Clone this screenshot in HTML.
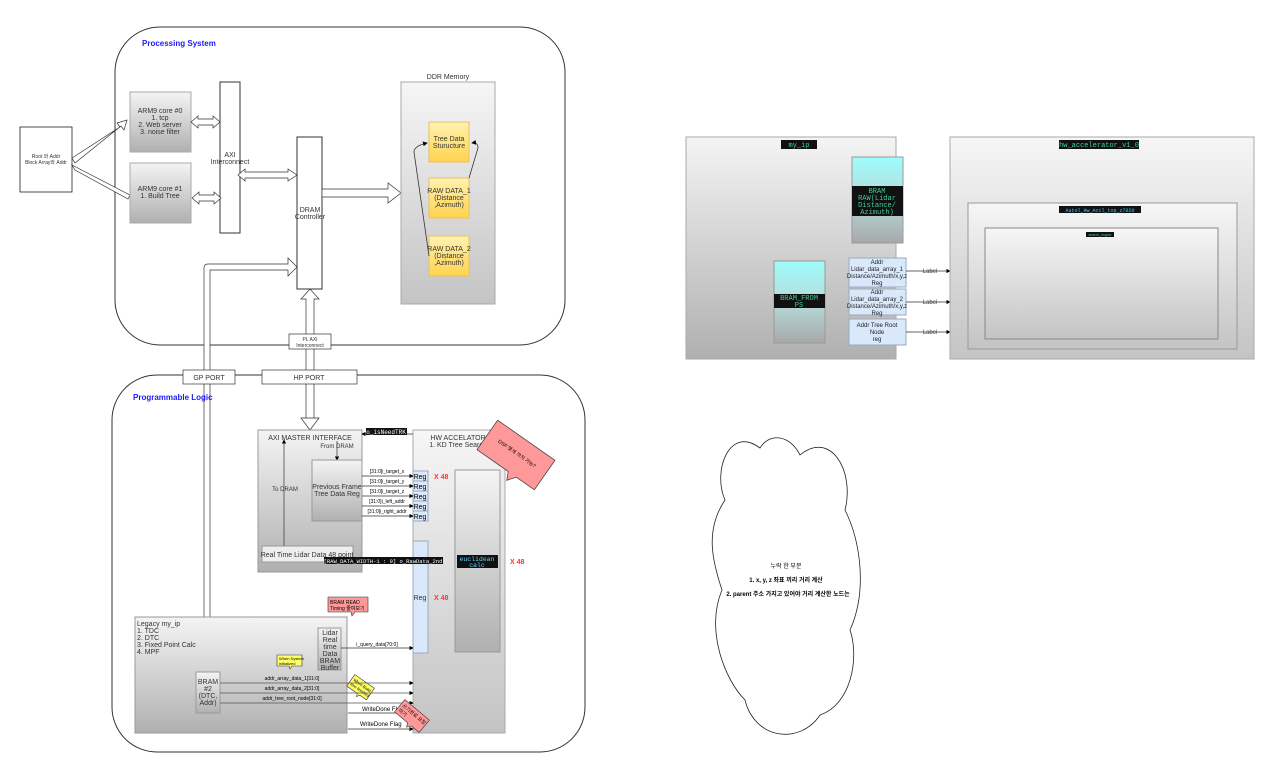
<!DOCTYPE html>
<html><head><meta charset="utf-8"><style>
body{margin:0;background:#fff}
svg{display:block;font-family:"Liberation Sans","Noto Sans CJK KR",sans-serif}
.m{font-family:"Liberation Mono",monospace}
</style></head><body>
<svg width="1280" height="772" viewBox="0 0 1280 772" xmlns="http://www.w3.org/2000/svg">
<defs>
<linearGradient id="g" x1="0" y1="0" x2="0" y2="1"><stop offset="0" stop-color="#f4f4f4"/><stop offset="1" stop-color="#b0b0b0"/></linearGradient>
<linearGradient id="gl" x1="0" y1="0" x2="0" y2="1"><stop offset="0" stop-color="#f6f6f6"/><stop offset="1" stop-color="#c4c4c4"/></linearGradient>
<linearGradient id="y" x1="0" y1="0" x2="0" y2="1"><stop offset="0" stop-color="#fff2b0"/><stop offset="1" stop-color="#ffd34d"/></linearGradient>
<linearGradient id="c" x1="0" y1="0" x2="0" y2="1"><stop offset="0" stop-color="#9ffcfc"/><stop offset="0.5" stop-color="#b6dcdc"/><stop offset="1" stop-color="#a8a8a8"/></linearGradient>
<marker id="a" markerWidth="6" markerHeight="6" refX="5" refY="3" orient="auto"><path d="M0,0L6,3L0,6z" fill="#000"/></marker>
</defs>
<g font-size="7" fill="#333">
<rect x="20" y="127" width="52" height="65" fill="#fff" stroke="#000" stroke-width=".7"/>
<text x="46" y="158" text-anchor="middle" font-size="5">Root 와 Addr</text>
<text x="46" y="164" text-anchor="middle" font-size="5">Block Array와 Addr</text>
<rect x="115" y="27" width="450" height="318" rx="45" fill="none" stroke="#333"/>
<text x="142" y="46" fill="#1a1aff" font-weight="bold" font-size="8">Processing System</text>
<path d="M72,158 L120,127 L117,123 L127,120 L124,130 L121,126 L75,163 Z" fill="#fff" stroke="#333" stroke-width=".7"/>
<path d="M72,165 L130,195 L128,199 L75,170 Z" fill="#fff" stroke="#333" stroke-width=".7"/>
<rect x="130" y="92" width="61" height="60" fill="url(#g)" stroke="#aaa"/>
<text x="160" y="113" text-anchor="middle">ARM9 core #0</text><text x="160" y="120" text-anchor="middle">1. tcp</text><text x="160" y="127" text-anchor="middle">2. Web server</text><text x="160" y="134" text-anchor="middle">3. noise filter</text>
<rect x="130" y="163" width="61" height="60" fill="url(#g)" stroke="#aaa"/>
<text x="160" y="191" text-anchor="middle">ARM9 core #1</text><text x="160" y="198" text-anchor="middle">1. Build Tree</text>
<rect x="220" y="82" width="20" height="151" fill="#fff" stroke="#333"/>
<text x="230" y="157" text-anchor="middle">AXI</text><text x="230" y="164" text-anchor="middle">Interconnect</text>
<path d="M191,122 l7,-6 v3 h15 v-3 l7,6 l-7,6 v-3 h-15 v3z" fill="#fff" stroke="#333" stroke-width=".7"/>
<path d="M192,198 l7,-6 v3 h15 v-3 l7,6 l-7,6 v-3 h-15 v3z" fill="#fff" stroke="#333" stroke-width=".7"/>
<path d="M238,175 l7,-6 v3 h43 v-3 l9,6 l-9,6 v-3 h-43 v3z" fill="#fff" stroke="#333" stroke-width=".7"/>
<rect x="297" y="137" width="25" height="152" fill="#fff" stroke="#333"/>
<text x="310" y="212" text-anchor="middle">DRAM</text><text x="310" y="219" text-anchor="middle">Controller</text>
<path d="M322,189 h66 v-6 l13,10 l-13,10 v-6 h-66z" fill="#fff" stroke="#333" stroke-width=".7"/>
<text x="448" y="79" text-anchor="middle">DDR Memory</text>
<rect x="401" y="82" width="94" height="222" fill="url(#gl)" stroke="#aaa"/>
<rect x="429" y="122" width="40" height="40" fill="url(#y)" stroke="#e8c060"/>
<text x="449" y="141" text-anchor="middle">Tree Data</text><text x="449" y="148" text-anchor="middle">Sturucture</text>
<rect x="429" y="178" width="40" height="40" fill="url(#y)" stroke="#e8c060"/>
<text x="449" y="193" text-anchor="middle">RAW DATA_1</text><text x="449" y="200" text-anchor="middle">(Distance</text><text x="449" y="207" text-anchor="middle">,Azimuth)</text>
<rect x="429" y="236" width="40" height="40" fill="url(#y)" stroke="#e8c060"/>
<text x="449" y="251" text-anchor="middle">RAW DATA_2</text><text x="449" y="258" text-anchor="middle">(Distance</text><text x="449" y="265" text-anchor="middle">,Azimuth)</text>
<path d="M429,256 L414,152 Q414,146 427,143" fill="none" stroke="#333" stroke-width=".8" marker-end="url(#a)"/>
<path d="M469,178 L478,148 Q478,142 472,143" fill="none" stroke="#333" stroke-width=".8" marker-end="url(#a)"/>
<path d="M204,672 V268 Q204,264 208,264 H288 V258 L297,267 L288,276 V270 H210 V672" fill="#fff" stroke="#333" stroke-width=".7"/>
<path d="M199,660 h4 v-2 h4 v2 h4 l-6,10 z" fill="#fff" stroke="#333" stroke-width=".7"/>
<path d="M306,420 V299 h-5 l9,-10 l9,10 h-5 V420" fill="#fff" stroke="#333" stroke-width=".7"/>
<path d="M301,418 h18 l-9,12 z" fill="#fff" stroke="#333" stroke-width=".7"/>
<rect x="289" y="334" width="42" height="15" fill="#fff" stroke="#333" stroke-width=".7"/>
<text x="310" y="341" text-anchor="middle" font-size="5">PL AXI</text><text x="310" y="347" text-anchor="middle" font-size="5">Interconnect</text>
<rect x="112" y="375" width="473" height="377" rx="45" fill="none" stroke="#333"/>
<rect x="183" y="370" width="52" height="14" fill="#fff" stroke="#333" stroke-width=".7"/><text x="209" y="380" text-anchor="middle">GP PORT</text>
<rect x="262" y="370" width="95" height="14" fill="#fff" stroke="#333" stroke-width=".7"/><text x="309" y="380" text-anchor="middle">HP PORT</text>
<text x="133" y="400" fill="#1a1aff" font-weight="bold" font-size="8">Programmable Logic</text>
<rect x="258" y="430" width="104" height="142" fill="url(#g)" stroke="#999"/>
<text x="310" y="440" text-anchor="middle">AXI MASTER INTERFACE</text>
<text x="337" y="448" text-anchor="middle" font-size="6">From DRAM</text>
<line x1="337" y1="441" x2="337" y2="460" stroke="#333" stroke-width=".7" marker-end="url(#a)"/>
<line x1="284" y1="546" x2="284" y2="440" stroke="#333" stroke-width=".7" marker-end="url(#a)"/>
<text x="285" y="491" text-anchor="middle" font-size="6" fill="#333">To DRAM</text>
<rect x="312" y="460" width="50" height="61" fill="url(#g)" stroke="#999"/>
<text x="337" y="489" text-anchor="middle">Previous Frame</text><text x="337" y="496" text-anchor="middle">Tree Data Reg</text>
<rect x="262" y="546" width="91" height="16" fill="#eee" stroke="#999"/>
<text x="307" y="557" text-anchor="middle">Real Time Lidar Data 48 point</text>
<rect x="413" y="430" width="92" height="303" fill="url(#gl)" stroke="#aaa"/>
<text x="458" y="440" text-anchor="middle">HW ACCELATOR</text><text x="458" y="447" text-anchor="middle">1. KD Tree Search</text>
<rect x="455" y="470" width="45" height="182" fill="url(#g)" stroke="#999"/>
<rect x="457" y="555" width="41" height="13" fill="#111"/>
<text x="477" y="561" text-anchor="middle" fill="#6cf" class="m" font-size="6.5">euclidean</text><text x="477" y="567" text-anchor="middle" fill="#6cf" class="m" font-size="6.5">calc</text>
<text x="510" y="564" fill="#f33" font-weight="bold">X 48</text>
<g font-size="5" fill="#000">
<rect x="413" y="471" width="15" height="10" fill="#dae8fc" stroke="#9ab"/><text x="420" y="479" text-anchor="middle" font-size="7">Reg</text>
<rect x="413" y="481" width="15" height="10" fill="#dae8fc" stroke="#9ab"/><text x="420" y="489" text-anchor="middle" font-size="7">Reg</text>
<rect x="413" y="491" width="15" height="10" fill="#dae8fc" stroke="#9ab"/><text x="420" y="499" text-anchor="middle" font-size="7">Reg</text>
<rect x="413" y="501" width="15" height="10" fill="#dae8fc" stroke="#9ab"/><text x="420" y="509" text-anchor="middle" font-size="7">Reg</text>
<rect x="413" y="511" width="15" height="10" fill="#dae8fc" stroke="#9ab"/><text x="420" y="519" text-anchor="middle" font-size="7">Reg</text>
<text x="434" y="479" fill="#f33" font-weight="bold" font-size="7">X 48</text>
<line x1="362" y1="476" x2="413" y2="476" stroke="#333" stroke-width=".7" marker-end="url(#a)"/><text x="387" y="473" text-anchor="middle">[31:0]i_target_x</text>
<line x1="362" y1="486" x2="413" y2="486" stroke="#333" stroke-width=".7" marker-end="url(#a)"/><text x="387" y="483" text-anchor="middle">[31:0]i_target_y</text>
<line x1="362" y1="496" x2="413" y2="496" stroke="#333" stroke-width=".7" marker-end="url(#a)"/><text x="387" y="493" text-anchor="middle">[31:0]i_target_z</text>
<line x1="362" y1="506" x2="413" y2="506" stroke="#333" stroke-width=".7" marker-end="url(#a)"/><text x="387" y="503" text-anchor="middle">[31:0]i_left_addr</text>
<line x1="362" y1="516" x2="413" y2="516" stroke="#333" stroke-width=".7" marker-end="url(#a)"/><text x="387" y="513" text-anchor="middle">[31:0]i_right_addr</text>
</g>
<rect x="413" y="541" width="15" height="112" fill="#dae8fc" stroke="#9ab"/>
<text x="420" y="600" text-anchor="middle">Reg</text><text x="434" y="600" fill="#f33" font-weight="bold">X 48</text>
<line x1="413" y1="434" x2="362" y2="434" stroke="#333" stroke-width=".7" marker-end="url(#a)"/>
<rect x="366" y="428" width="41" height="7" fill="#111"/><text x="386" y="434" text-anchor="middle" fill="#fff" font-size="6" class="m">o_isNeedTRK</text>
<line x1="413" y1="562" x2="353" y2="562" stroke="#333" stroke-width=".7" marker-end="url(#a)"/>
<rect x="324" y="557" width="119" height="7" fill="#111"/><text x="383" y="563" text-anchor="middle" fill="#fff" font-size="5.5" class="m">[RAW_DATA_WIDTH-1 : 0] o_RawData_2nd</text>
<g transform="translate(516,455) rotate(35)"><path d="M-35,-18 h70 v36 h-22 l-6,8 l-4,-8 h-38 z" fill="#f99" stroke="#333" stroke-width=".7"/><text x="0" y="0" text-anchor="middle" font-size="5" fill="#000">DSP 몇개 까지 가능?</text></g>
<rect x="135" y="617" width="212" height="116" fill="url(#g)" stroke="#999"/>
<text x="137" y="626">Legacy my_ip</text><text x="137" y="633">1. TDC</text><text x="137" y="640">2. DTC</text><text x="137" y="647">3. Fixed Point Calc</text><text x="137" y="654">4. MPF</text>
<rect x="196" y="672" width="24" height="41" fill="url(#g)" stroke="#999"/>
<text x="208" y="684" text-anchor="middle">BRAM</text><text x="208" y="691" text-anchor="middle">#2</text><text x="208" y="698" text-anchor="middle">(DTC,</text><text x="208" y="705" text-anchor="middle">Addr)</text>
<rect x="318" y="628" width="23" height="42" fill="url(#g)" stroke="#999"/>
<text x="330" y="635" text-anchor="middle">Lidar</text><text x="330" y="642" text-anchor="middle">Real</text><text x="330" y="649" text-anchor="middle">time</text><text x="330" y="656" text-anchor="middle">Data</text><text x="330" y="663" text-anchor="middle">BRAM</text><text x="330" y="670" text-anchor="middle">Buffer</text>
<path d="M328,597 h40 v15 h-13 l-3,4 l-1,-4 h-23z" fill="#f99" stroke="#333" stroke-width=".6"/>
<text x="330" y="604" font-size="5" fill="#000">BRAM READ</text><text x="330" y="610" font-size="5" fill="#000">Timing 줄여보기</text>
<path d="M277,655 h25 v11 h-10 l-2,3 l-1,-3 h-12z" fill="#ff6" stroke="#333" stroke-width=".6"/>
<text x="279" y="660" font-size="4" fill="#000">When System</text><text x="279" y="665" font-size="4" fill="#000">initialized</text>
<g transform="translate(360,688) rotate(35)"><path d="M-12,-8 h24 v14 h-8 l-2,3 l-1,-3 h-13z" fill="#ff6" stroke="#333" stroke-width=".6"/><text x="-10" y="-2" font-size="4" fill="#000">When Build</text><text x="-10" y="3" font-size="4" fill="#000">tree finished</text></g>
<g font-size="5" fill="#000">
<line x1="341" y1="648" x2="413" y2="648" stroke="#333" stroke-width=".7" marker-end="url(#a)"/><text x="377" y="646" text-anchor="middle">i_query_data[70:0]</text>
<line x1="220" y1="683" x2="413" y2="683" stroke="#555" stroke-width=".7" marker-end="url(#a)"/><text x="292" y="680" text-anchor="middle">addr_array_data_1[31:0]</text>
<line x1="220" y1="693" x2="413" y2="693" stroke="#555" stroke-width=".7" marker-end="url(#a)"/><text x="292" y="690" text-anchor="middle">addr_array_data_2[31:0]</text>
<line x1="220" y1="703" x2="413" y2="703" stroke="#555" stroke-width=".7" marker-end="url(#a)"/><text x="292" y="700" text-anchor="middle">addr_tree_root_node[31:0]</text>
<line x1="348" y1="713" x2="413" y2="713" stroke="#333" stroke-width=".7"/><text x="362" y="711" font-size="6">WriteDone Flag</text>
<line x1="348" y1="729" x2="413" y2="729" stroke="#333" stroke-width=".7" marker-end="url(#a)"/><text x="360" y="726" font-size="6">WriteDone Flag</text>
</g>
<g transform="translate(412,716) rotate(40)"><path d="M-16,-8 h32 v16 h-10 l-3,4 l-2,-4 h-17z" fill="#f99" stroke="#333" stroke-width=".6"/><text x="-14" y="-1" font-size="5" fill="#000">쓰기완료 요청</text><text x="-14" y="5" font-size="5" fill="#000">하기</text></g>
<rect x="686" y="137" width="210" height="222" fill="url(#g)" stroke="#aaa"/>
<rect x="781" y="140" width="36" height="9" fill="#111"/><text x="799" y="147" text-anchor="middle" fill="#4c9" class="m" font-size="7">my_ip</text>
<rect x="852" y="157" width="51" height="86" fill="url(#c)" stroke="#999"/>
<rect x="852" y="186" width="51" height="30" fill="#111"/>
<g fill="#4c9" class="m" font-size="7" text-anchor="middle"><text x="877" y="193">BRAM</text><text x="877" y="200">RAW(Lidar</text><text x="877" y="207">Distance/</text><text x="877" y="214">Azimuth)</text></g>
<rect x="774" y="261" width="51" height="82" fill="url(#c)" stroke="#999"/>
<rect x="774" y="294" width="51" height="14" fill="#111"/>
<g fill="#4c9" class="m" font-size="7" text-anchor="middle"><text x="799" y="300">BRAM_FROM</text><text x="799" y="307">PS</text></g>
<g font-size="6" fill="#222" text-anchor="middle">
<rect x="849" y="258" width="57" height="29" fill="#dae8fc" stroke="#9ab"/><text x="877" y="264">Addr</text><text x="877" y="271">Lidar_data_array_1</text><text x="877" y="278">Distance/Azimuth/x,y,z</text><text x="877" y="285">Reg</text>
<rect x="849" y="289" width="57" height="26" fill="#dae8fc" stroke="#9ab"/><text x="877" y="294">Addr</text><text x="877" y="301">Lidar_data_array_2</text><text x="877" y="308">Distance/Azimuth/x,y,z</text><text x="877" y="315">Reg</text>
<rect x="849" y="319" width="57" height="26" fill="#dae8fc" stroke="#9ab"/><text x="877" y="327">Addr Tree Root</text><text x="877" y="334">Node</text><text x="877" y="341">reg</text>
<line x1="906" y1="271" x2="950" y2="271" stroke="#333" stroke-width=".7" marker-end="url(#a)"/><text x="930" y="273" fill="#444">Label</text>
<line x1="906" y1="302" x2="950" y2="302" stroke="#333" stroke-width=".7" marker-end="url(#a)"/><text x="930" y="304" fill="#444">Label</text>
<line x1="906" y1="332" x2="950" y2="332" stroke="#333" stroke-width=".7" marker-end="url(#a)"/><text x="930" y="334" fill="#444">Label</text>
</g>
<rect x="950" y="137" width="304" height="222" fill="url(#gl)" stroke="#aaa"/>
<rect x="1059" y="140" width="80" height="9" fill="#111"/><text x="1099" y="147" text-anchor="middle" fill="#4c9" class="m" font-size="7">hw_accelerator_v1_0</text>
<rect x="968" y="203" width="269" height="146" fill="url(#gl)" stroke="#999"/>
<rect x="1059" y="206" width="82" height="7" fill="#111"/><text x="1100" y="212" text-anchor="middle" fill="#4cf" class="m" font-size="5">Autol_Hw_Accl_top_z7020</text>
<rect x="985" y="228" width="233" height="111" fill="url(#gl)" stroke="#888"/>
<rect x="1086" y="232" width="28" height="5" fill="#111"/><text x="1100" y="236" text-anchor="middle" fill="#4c9" font-size="3.5">search_engine</text>
<path d="M760,448 C730,425 712,470 725,500 C705,530 712,560 722,590 C705,630 725,680 745,700 C755,740 800,745 820,715 C850,705 860,660 850,630 C868,590 860,540 845,510 C855,470 830,430 800,455 C790,435 770,432 760,448 Z" fill="#fff" stroke="#222" stroke-width=".8"/>
<g font-size="6" fill="#000" text-anchor="middle"><text x="786" y="568">누락 한 부분</text><text x="786" y="582" font-weight="bold">1. x, y, z 좌표 끼리 거리 계산</text><text x="788" y="596" font-weight="bold">2. parent 주소 가지고 있어야 거리 계산한 노드는</text></g>
</g>
</svg>
</body></html>
